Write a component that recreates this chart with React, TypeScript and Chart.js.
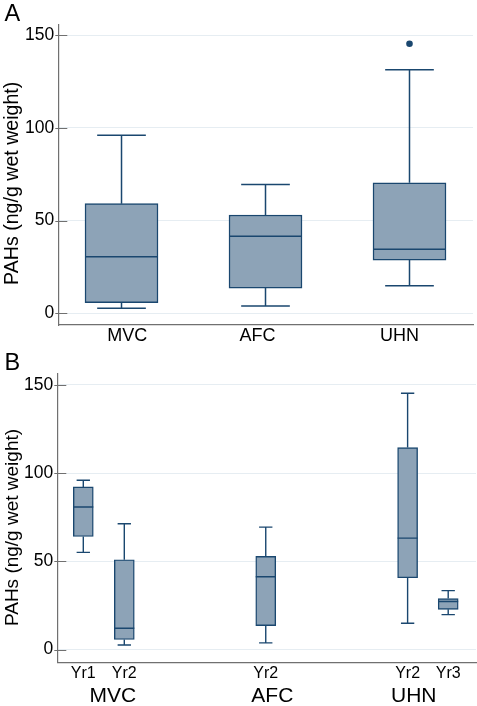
import React, { useEffect, useRef } from 'react';
import { Chart, registerables } from 'chart.js';

Chart.register(...registerables);

// ---------- Data ----------
const Y_TITLE = 'PAHs (ng/g wet weight)';
const Y_TICKS = [0, 50, 100, 150];

// Panel A: by site
const A_SITES = ['MVC', 'AFC', 'UHN'];
const A_LOWER = [2.7, 3.9, 14.9];
const A_Q1 = [5.7, 13.6, 28.7];
const A_MEDIAN = [30.5, 41.5, 34.5];
const A_Q3 = [59.1, 53.0, 70.4];
const A_UPPER = [96.0, 69.5, 131.3];
const A_OUTLIER_BOX = [2];
const A_OUTLIER_VALUE = [145.3];

// Panel B: by year within site
const B_YEARS = ['Yr1', 'Yr2', 'Yr2', 'Yr2', 'Yr3'];
const B_SITES = ['MVC', 'AFC', 'UHN'];
const B_LOWER = [55.1, 2.6, 3.8, 14.9, 19.8];
const B_Q1 = [64.1, 5.7, 13.6, 40.7, 22.8];
const B_MEDIAN = [80.8, 12.1, 41.3, 63.2, 27.3];
const B_Q3 = [92.2, 50.9, 52.8, 114.5, 28.9];
const B_UPPER = [96.0, 71.3, 69.4, 145.3, 33.4];

// ---------- Layout / style ----------
const FONT = '"Liberation Sans", Arial, Helvetica, sans-serif';
const STROKE = '#1a476f';
const FILL = '#8da3b7';
const GRID = '#e6edf2';
const AXIS = '#707070';

const A_POS = [1, 2, 3];
const A_LABEL_POS = [1.04, 1.945, 2.93];
const B_POS = [1, 2, 5.45, 8.91, 9.9];
const B_SITE_POS = [1.72, 5.61, 9.06];

type Spec = {
  top: number;
  height: number;
  pos: number[];
  lower: number[];
  q1: number[];
  median: number[];
  q3: number[];
  upper: number[];
  outliers: { x: number; y: number }[];
  xMin: number;
  xMax: number;
  yMin: number;
  yMax: number;
  padTop: number;
  yWidth: number;
  barWidth: number;
  lineWidth: number;
  tickLabelPos: number[];
  tickLabels: string[];
  tickFont: number;
  tickPad: number;
  xHeight: number;
  groupPos?: number[];
  groupLabels?: string[];
  groupFont?: number;
  groupHeight?: number;
  titleX: number;
  titleY: number;
  titleFont: number;
};

function BoxPanel({ spec }: { spec: Spec }) {
  const ref = useRef<HTMLCanvasElement>(null);
  useEffect(() => {
    if (!ref.current) return;
    const p = spec;
    const boxData = p.pos.map((x, i) => ({ x, y: [p.q1[i], p.q3[i]] }));

    const whiskers = {
      id: 'whiskers',
      afterDatasetsDraw(chart: any) {
        const ctx = chart.ctx;
        const xs = chart.scales.x;
        const ys = chart.scales.y;
        const meta = chart.getDatasetMeta(0);
        ctx.save();
        ctx.strokeStyle = STROKE;
        ctx.lineWidth = p.lineWidth;
        p.pos.forEach((x, i) => {
          const bar = meta.data[i];
          const cx = xs.getPixelForValue(x);
          const half = bar.width / 2;
          const cap = bar.width / 3;
          const yU = ys.getPixelForValue(p.upper[i]);
          const yQ3 = ys.getPixelForValue(p.q3[i]);
          const yQ1 = ys.getPixelForValue(p.q1[i]);
          const yL = ys.getPixelForValue(p.lower[i]);
          const yM = ys.getPixelForValue(p.median[i]);
          ctx.beginPath();
          ctx.moveTo(cx, yQ3);
          ctx.lineTo(cx, yU);
          ctx.moveTo(cx - cap, yU);
          ctx.lineTo(cx + cap, yU);
          ctx.moveTo(cx, yQ1);
          ctx.lineTo(cx, yL);
          ctx.moveTo(cx - cap, yL);
          ctx.lineTo(cx + cap, yL);
          ctx.moveTo(cx - half, yM);
          ctx.lineTo(cx + half, yM);
          ctx.stroke();
        });
        // y tick marks
        const left = chart.chartArea.left;
        ctx.strokeStyle = AXIS;
        ctx.lineWidth = 1;
        ctx.beginPath();
        Y_TICKS.forEach((v) => {
          const y = Math.round(ys.getPixelForValue(v)) + 0.5;
          ctx.moveTo(left - 3, y);
          ctx.lineTo(left + 9, y);
        });
        ctx.stroke();
        // y title
        ctx.fillStyle = '#000';
        ctx.font = `${p.titleFont}px ${FONT}`;
        ctx.translate(p.titleX, p.titleY);
        ctx.rotate(-Math.PI / 2);
        ctx.textAlign = 'center';
        ctx.textBaseline = 'alphabetic';
        ctx.fillText(Y_TITLE, 0, 0);
        ctx.restore();
      },
    };

    const scales: any = {
      x: {
        type: 'linear',
        min: p.xMin,
        max: p.xMax,
        offset: false,
        grid: { display: false, offset: false, drawTicks: false },
        border: { display: true, color: AXIS, width: 1.2 },
        afterBuildTicks: (s: any) => {
          s.ticks = p.tickLabelPos.map((v) => ({ value: v }));
        },
        ticks: {
          callback: (_v: any, i: number) => p.tickLabels[i],
          font: { size: p.tickFont, family: FONT },
          color: '#000',
          padding: p.tickPad,
          maxRotation: 0,
          autoSkip: false,
        },
        afterFit: (s: any) => {
          s.height = p.xHeight;
        },
      },
      y: {
        type: 'linear',
        min: p.yMin,
        max: p.yMax,
        grid: { color: GRID, lineWidth: 1, drawTicks: false },
        border: { display: true, color: AXIS, width: 1.2 },
        afterBuildTicks: (s: any) => {
          s.ticks = Y_TICKS.map((v) => ({ value: v }));
        },
        ticks: {
          font: { size: 17.5, family: FONT },
          color: '#000',
          padding: 4,
        },
        afterFit: (s: any) => {
          s.width = p.yWidth;
        },
      },
    };
    if (p.groupPos && p.groupLabels) {
      scales.x2 = {
        type: 'linear',
        position: 'bottom',
        weight: 1,
        min: p.xMin,
        max: p.xMax,
        offset: false,
        grid: { display: false, drawTicks: false },
        border: { display: false },
        afterBuildTicks: (s: any) => {
          s.ticks = (p.groupPos as number[]).map((v) => ({ value: v }));
        },
        ticks: {
          callback: (_v: any, i: number) => (p.groupLabels as string[])[i],
          font: { size: p.groupFont, family: FONT },
          color: '#000',
          padding: 0,
          maxRotation: 0,
          autoSkip: false,
        },
        afterFit: (s: any) => {
          s.height = p.groupHeight;
        },
      };
    }

    const datasets: any[] = [
      {
        type: 'bar',
        data: boxData,
        backgroundColor: FILL,
        borderColor: STROKE,
        borderWidth: p.lineWidth,
        borderSkipped: false,
        barThickness: p.barWidth,
        xAxisID: 'x',
        yAxisID: 'y',
      },
    ];
    if (p.outliers.length) {
      datasets.push({
        type: 'scatter',
        data: p.outliers,
        backgroundColor: STROKE,
        borderWidth: 0,
        pointRadius: 3.3,
        xAxisID: 'x',
        yAxisID: 'y',
      });
    }

    const chart = new Chart(ref.current, {
      type: 'bar',
      data: { datasets },
      options: {
        animation: false,
        responsive: false,
        devicePixelRatio: 1,
        layout: { padding: { top: p.padTop, left: 0, right: 1, bottom: 0 } },
        plugins: { legend: { display: false }, tooltip: { enabled: false } },
        scales,
      } as any,
      plugins: [whiskers],
    });
    return () => chart.destroy();
  }, [spec]);

  return (
    <canvas
      ref={ref}
      width={477}
      height={spec.height}
      style={{ position: 'absolute', left: 0, top: spec.top, width: 477, height: spec.height }}
    />
  );
}

const SPEC_A: Spec = {
  top: 0,
  height: 350,
  pos: A_POS,
  lower: A_LOWER,
  q1: A_Q1,
  median: A_MEDIAN,
  q3: A_Q3,
  upper: A_UPPER,
  outliers: A_OUTLIER_BOX.map((b, i) => ({ x: A_POS[b], y: A_OUTLIER_VALUE[i] })),
  xMin: 0.561,
  xMax: 3.441,
  yMin: -6.3,
  yMax: 155.8,
  padTop: 24.3,
  yWidth: 58.3,
  barWidth: 73,
  lineWidth: 1.5,
  tickLabelPos: A_LABEL_POS,
  tickLabels: A_SITES,
  tickFont: 18,
  tickPad: 0,
  xHeight: 25,
  titleX: 17.5,
  titleY: 183.3,
  titleFont: 19.6,
};

const SPEC_B: Spec = {
  top: 340,
  height: 366,
  pos: B_POS,
  lower: B_LOWER,
  q1: B_Q1,
  median: B_MEDIAN,
  q3: B_Q3,
  upper: B_UPPER,
  outliers: [],
  xMin: 0.366,
  xMax: 10.578,
  yMin: -7.2,
  yMax: 156.6,
  padTop: 33.3,
  yWidth: 57.3,
  barWidth: 20,
  lineWidth: 1.4,
  tickLabelPos: B_POS,
  tickLabels: B_YEARS,
  tickFont: 16,
  tickPad: 2,
  xHeight: 21,
  groupPos: B_SITE_POS,
  groupLabels: B_SITES,
  groupFont: 21,
  groupHeight: 22.7,
  titleX: 17.5,
  titleY: 187.5,
  titleFont: 19,
};

export default function App() {
  const letter: React.CSSProperties = {
    position: 'absolute',
    left: 4.5,
    fontFamily: FONT,
    fontSize: 23.5,
    lineHeight: '23.5px',
    color: '#000',
    margin: 0,
  };
  return (
    <div style={{ position: 'absolute', left: 0, top: 0, width: 477, height: 706, background: '#fff' }}>
      <BoxPanel spec={SPEC_A} />
      <BoxPanel spec={SPEC_B} />
      <div style={{ ...letter, top: 1.5 }}>A</div>
      <div style={{ ...letter, top: 351.3 }}>B</div>
    </div>
  );
}
